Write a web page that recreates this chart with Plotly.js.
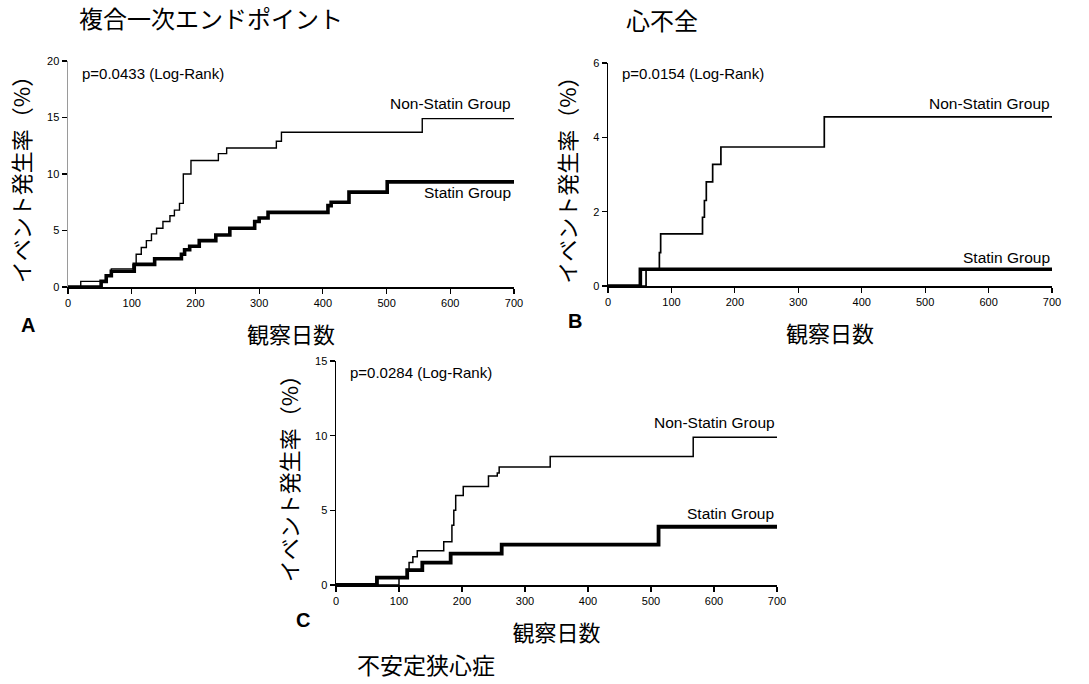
<!DOCTYPE html>
<html>
<head>
<meta charset="utf-8">
<script src="https://cdn.plot.ly/plotly-3.0.1.min.js"></script>
<style>html,body{margin:0;padding:0;background:#fff;}#chart{width:1089px;height:684px;}</style>
</head>
<body>
<div id="chart"></div>
<script>
// ---- Data (days, cumulative event rate %) ----
const xTickVals = [0, 100, 200, 300, 400, 500, 600, 700];
const xTickText = ["0", "100", "200", "300", "400", "500", "600", "700"];

// Panel A: 複合一次エンドポイント
const aNonStatinDays = [0, 20, 60, 68, 102, 107, 115, 123, 131, 139, 149, 160, 167, 175, 181, 193, 236, 249, 327, 335, 556, 700];
const aNonStatinRate = [0, 0.5, 1.0, 1.6, 2.0, 2.9, 3.5, 4.1, 4.7, 5.2, 5.8, 6.3, 6.8, 7.4, 10.0, 11.2, 11.8, 12.3, 12.9, 13.7, 14.9, 14.9];
const aStatinDays = [0, 52, 60, 68, 104, 136, 178, 183, 191, 206, 232, 254, 293, 300, 314, 408, 413, 441, 501, 700];
const aStatinRate = [0, 0.5, 1.0, 1.4, 2.0, 2.5, 2.9, 3.3, 3.6, 4.1, 4.6, 5.2, 5.8, 6.1, 6.6, 7.2, 7.5, 8.4, 9.3, 9.3];
const aYTicks = [0, 5, 10, 15, 20];

// Panel B: 心不全
const bNonStatinDays = [0, 60, 81, 83, 149, 152, 155, 165, 178, 341, 700];
const bNonStatinRate = [0, 0.45, 0.9, 1.4, 1.85, 2.3, 2.8, 3.27, 3.74, 4.55, 4.55];
const bStatinDays = [0, 51, 700];
const bStatinRate = [0, 0.45, 0.45];
const bYTicks = [0, 2, 4, 6];

// Panel C: 不安定狭心症
const cNonStatinDays = [0, 100, 113, 116, 122, 129, 171, 184, 187, 190, 202, 242, 256, 259, 340, 567, 700];
const cNonStatinRate = [0, 0.5, 1.0, 1.5, 1.9, 2.3, 2.9, 4.0, 5.0, 6.0, 6.6, 7.3, 7.5, 7.9, 8.6, 9.9, 9.9];
const cStatinDays = [0, 65, 113, 137, 182, 263, 512, 700];
const cStatinRate = [0, 0.5, 1.0, 1.5, 2.1, 2.7, 3.9, 3.9];
const cYTicks = [0, 5, 10, 15];

const groupNonStatin = "Non-Statin Group";
const groupStatin = "Statin Group";
const pValues = ["p=0.0433 (Log-Rank)", "p=0.0154 (Log-Rank)", "p=0.0284 (Log-Rank)"];
const panelTitles = ["複合一次エンドポイント", "心不全", "不安定狭心症"];
const xTitle = "観察日数";
const yTitle = "イベント発生率（%）";

// ---- Layout helpers ----
const W = 1089, H = 684;
const px = x => x / W;
const py = y => 1 - y / H;
const CJK = "Noto Sans CJK JP, sans-serif";
const SANS = "Liberation Sans, Arial, sans-serif";

function line(x, y, xa, ya, w, name) {
  return { type: "scatter", mode: "lines", x: x, y: y, xaxis: xa, yaxis: ya,
    line: { shape: "hv", color: "#000", width: w }, name: name, hoverinfo: "skip" };
}

const traces = [
  line(aNonStatinDays, aNonStatinRate, "x", "y", 1.4, groupNonStatin),
  line(aStatinDays, aStatinRate, "x", "y", 3.6, groupStatin),
  line(bNonStatinDays, bNonStatinRate, "x2", "y2", 1.7, groupNonStatin),
  line(bStatinDays, bStatinRate, "x2", "y2", 3.6, groupStatin),
  line(cNonStatinDays, cNonStatinRate, "x3", "y3", 1.5, groupNonStatin),
  line(cStatinDays, cStatinRate, "x3", "y3", 3.8, groupStatin)
];

function xAxis(d0, d1, anchor) {
  return { domain: [px(d0), px(d1)], range: [0, 700], anchor: anchor,
    showline: true, linecolor: "#000", linewidth: 1.5, showgrid: false, zeroline: false,
    ticks: "outside", ticklen: 5, tickwidth: 1.2, tickcolor: "#000",
    tickvals: xTickVals, ticktext: xTickText,
    tickfont: { family: SANS, size: 11, color: "#000" },
    title: { text: xTitle, font: { family: CJK, size: 22, color: "#000" }, standoff: 20 } };
}
function yAxis(top, bottom, maxv, ticks, anchor, lc) {
  return { domain: [py(bottom), py(top)], range: [0, maxv], anchor: anchor,
    showline: true, linecolor: lc, linewidth: 1.5, showgrid: false, zeroline: false,
    ticks: "outside", ticklen: 5, tickwidth: 1.2, tickcolor: "#000",
    tickvals: ticks, ticktext: ticks.map(String),
    tickfont: { family: SANS, size: 11, color: "#000" },
    title: { text: yTitle, font: { family: CJK, size: 22, color: "#000" }, standoff: 10 } };
}

function txt(text, x, y, xanchor, size, family, bold) {
  return { text: bold ? "<b>" + text + "</b>" : text, x: px(x), y: py(y), xref: "paper", yref: "paper",
    xanchor: xanchor, yanchor: "middle", showarrow: false,
    font: { family: family, size: size, color: "#000" } };
}

const annotations = [
  // panel titles B, C
  txt(panelTitles[1], 662, 20, "center", 24, CJK),
  txt(panelTitles[2], 426, 664, "center", 23, CJK),
  // panel letters
  txt("A", 28, 325, "center", 20, SANS, true),
  txt("B", 575, 321, "center", 20, SANS, true),
  txt("C", 303, 620, "center", 20, SANS, true),
  // panel A texts
  txt(pValues[0], 80, 73, "left", 15, SANS),
  txt(groupNonStatin, 513, 103, "right", 15.5, SANS),
  txt(groupStatin, 513, 192, "right", 15.5, SANS),
  // panel B texts
  txt(pValues[1], 620, 73, "left", 15, SANS),
  txt(groupNonStatin, 1052, 103, "right", 15.5, SANS),
  txt(groupStatin, 1052, 257, "right", 15.5, SANS),
  // panel C texts
  txt(pValues[2], 348, 372, "left", 15, SANS),
  txt(groupNonStatin, 777, 422, "right", 15.5, SANS),
  txt(groupStatin, 776, 513, "right", 15.5, SANS)
];

const layout = {
  width: W, height: H,
  margin: { l: 0, r: 0, t: 0, b: 0 },
  paper_bgcolor: "#fff", plot_bgcolor: "#fff",
  showlegend: false,
  title: { text: panelTitles[0], x: px(211), y: py(20), xref: "paper", yref: "paper",
    xanchor: "center", yanchor: "middle", font: { family: CJK, size: 24, color: "#000" } },
  xaxis: xAxis(68, 514, "y"),
  yaxis: yAxis(61, 287, 20, aYTicks, "x", "#9a9a9a"),
  xaxis2: xAxis(608, 1052, "y2"),
  yaxis2: yAxis(63, 286, 6, bYTicks, "x2", "#000"),
  xaxis3: xAxis(336, 777, "y3"),
  yaxis3: yAxis(361, 585, 15, cYTicks, "x3", "#000"),
  annotations: annotations
};

Plotly.newPlot("chart", traces, layout, { staticPlot: true, displayModeBar: false });
</script>
</body>
</html>
